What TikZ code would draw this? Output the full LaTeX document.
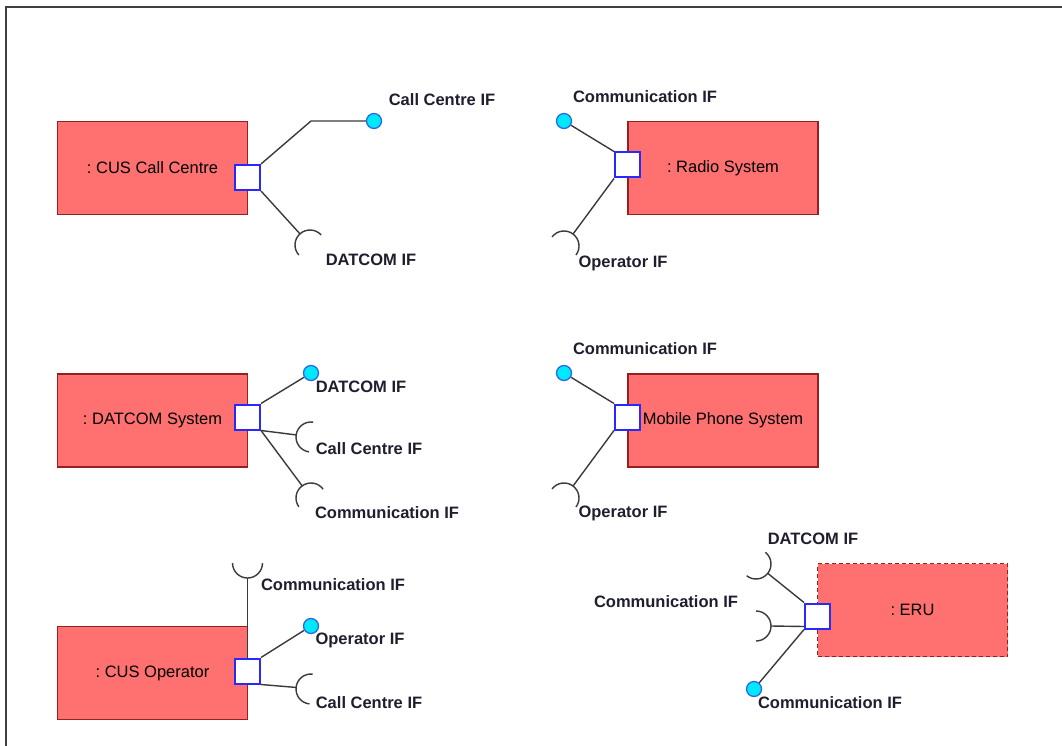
\documentclass[tikz,border=0pt]{standalone}
\usepackage{fontspec}
\setmainfont{Liberation Sans}
\usetikzlibrary{calc}
\frenchspacing

\definecolor{compfill}{HTML}{FF7070}
\definecolor{compline}{HTML}{962020}
\definecolor{portline}{HTML}{2828FF}
\definecolor{lollifill}{HTML}{00E8FF}
\definecolor{lolliline}{HTML}{2A6BE0}
\definecolor{wirecol}{HTML}{3A3A3A}
\definecolor{labelcol}{HTML}{1E1E2E}
\definecolor{framecol}{HTML}{404040}

\tikzset{
  comp/.style={draw=compline, fill=compfill, line width=1.8pt,
    minimum width=190pt, minimum height=93pt, inner sep=0pt,
    font=\fontsize{16.5}{18}\selectfont},
  port/.style={draw=portline, fill=white, line width=2pt,
    minimum size=25pt, inner sep=0pt},
  lolli/.style={circle, draw=lolliline, fill=lollifill, line width=1.3pt,
    minimum size=15pt, inner sep=0pt},
  wire/.style={draw=wirecol, line width=1.4pt},
  iflabel/.style={font=\bfseries\fontsize{16.5}{18}\selectfont,
    text=labelcol, inner sep=0pt},
}

% required interface: half circle of radius 15 around centre #1,
% facing back along angle #2 (towards its port)
\newcommand\reqsocket[2]{%
  \draw[wire] ($(#1)+({#2-90}:15)$) arc[start angle={#2-90}, end angle={#2+90}, radius=15];}

\begin{document}
\begin{tikzpicture}[x=1pt,y=-1pt]
\useasboundingbox (0,0) rectangle (1062,746);
\draw[framecol, line width=2pt] (6,746) -- (6,7) -- (1062,7);

% components
\node[comp] (callcentre) at (152.5,168) {: CUS Call Centre};
\node[comp] (radio) at (723,168) {: Radio System};
\node[comp] (datcom) at (152.5,420.5) {: DATCOM System};
\node[comp] (mobile) at (723,420.5) {Mobile Phone System};
\node[comp] (operator) at (152.5,673) {: CUS Operator};
\node[comp, dash pattern=on 4pt off 3pt] (eru) at (912.5,610) {: ERU};

% ports
\node[port] (ccp) at (247.5,177.5) {};
\node[port] (rp) at (627.5,165) {};
\node[port] (dsp) at (247.5,417) {};
\node[port] (mp) at (627.5,417) {};
\node[port] (op) at (247.5,671) {};
\node[port] (ep) at (817.5,616) {};

% provided interfaces
\node[lolli] (cclolli) at (374,121) {};
\node[lolli] (rlolli) at (564,121) {};
\node[lolli] (dslolli) at (311,373) {};
\node[lolli] (mlolli) at (564,373) {};
\node[lolli] (ololli) at (311,626) {};
\node[lolli] (elolli) at (754,689) {};
\coordinate (ccbend) at (311,121);

\draw[wire] (ccp.north east) -- (ccbend) -- (cclolli);
\draw[wire] (rlolli) -- (rp.north west);
\draw[wire] (dsp.north east) -- (dslolli);
\draw[wire] (mlolli) -- (mp.north west);
\draw[wire] (op.north east) -- (ololli);
\draw[wire] (ep.south west) -- (elolli);

% required interfaces
\coordinate (s1) at (310,245);
\coordinate (s2) at (564,246);
\coordinate (s3) at (311,437);
\coordinate (s4) at (311,498);
\coordinate (s5) at (564,498);
\coordinate (s6) at (247.5,563);
\coordinate (s7) at (311,689);
\coordinate (s8) at (756,564);
\coordinate (s9) at (756,626);

\draw[wire] (ccp.south east) -- ($(s1)+(228:15)$);
\reqsocket{s1}{228}
\draw[wire] (rp.south west) -- ($(s2)+(307:15)$);
\reqsocket{s2}{307}
\draw[wire] (dsp.south east) -- ($(s3)+(188:15)$);
\reqsocket{s3}{188}
\draw[wire] (dsp.south east) -- ($(s4)+(234:15)$);
\reqsocket{s4}{234}
\draw[wire] (mp.south west) -- ($(s5)+(307:15)$);
\reqsocket{s5}{307}
\draw[wire] (op.north) -- ($(s6)+(90:15)$);
\reqsocket{s6}{90}
\draw[wire] (op.south east) -- ($(s7)+(186:15)$);
\reqsocket{s7}{186}
\draw[wire] (ep.north west) -- ($(s8)+(38.5:15)$);
\reqsocket{s8}{38.5}
\draw[wire] ($(ep.south west)+(0,-3)$) -- ($(s9)+(0:15)$);
\reqsocket{s9}{0}

% interface labels
\node[iflabel] (lcc1) at (442,100) {Call Centre IF};
\node[iflabel] (lcc2) at (371,260) {DATCOM IF};
\node[iflabel] (lr1) at (645,97) {Communication IF};
\node[iflabel] (lr2) at (623,263) {Operator IF};
\node[iflabel] (ld1) at (361,387) {DATCOM IF};
\node[iflabel] (ld2) at (369,449) {Call Centre IF};
\node[iflabel] (ld3) at (387,513) {Communication IF};
\node[iflabel] (lm1) at (645,349) {Communication IF};
\node[iflabel] (lm2) at (623,513) {Operator IF};
\node[iflabel] (lo1) at (333,585) {Communication IF};
\node[iflabel] (lo2) at (360,640) {Operator IF};
\node[iflabel] (lo3) at (369,703) {Call Centre IF};
\node[iflabel] (le1) at (813,539) {DATCOM IF};
\node[iflabel] (le2) at (666,602) {Communication IF};
\node[iflabel] (le3) at (830,703) {Communication IF};
\end{tikzpicture}
\end{document}
